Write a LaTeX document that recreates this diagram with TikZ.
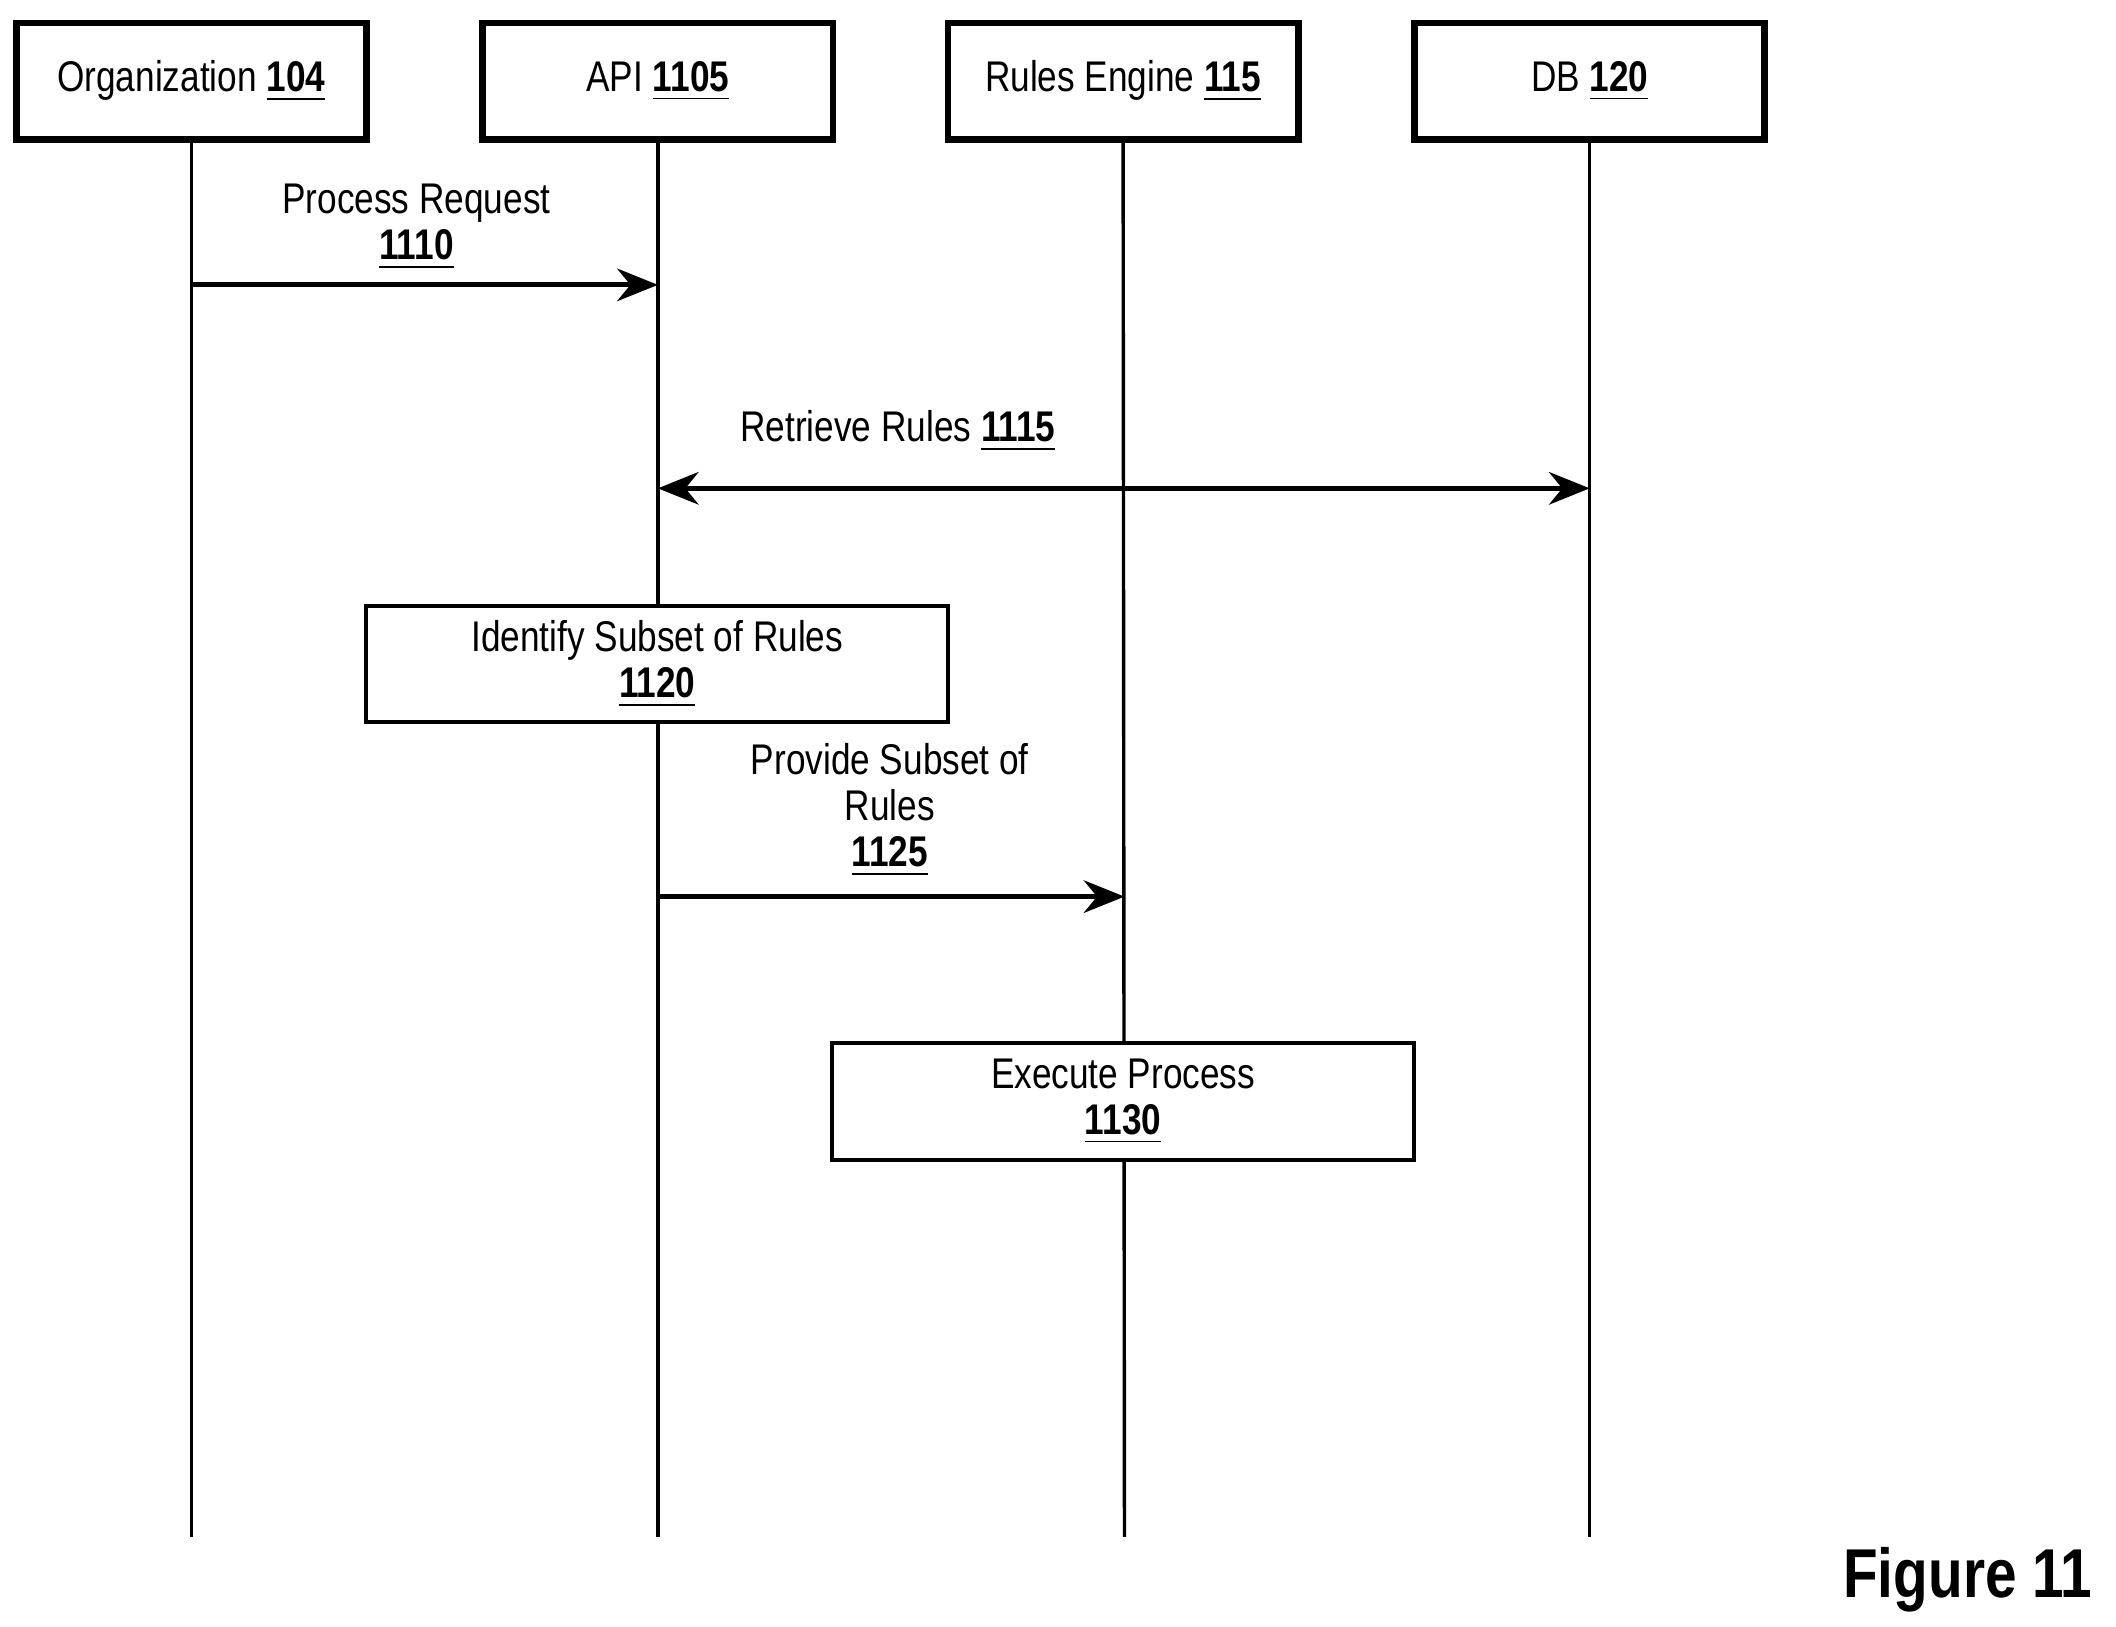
\documentclass[tikz,border=0pt]{standalone}
\usepackage{fontspec}
\setmainfont{Liberation Sans}[FakeStretch=0.82]
\usetikzlibrary{arrows.meta, positioning}

\begin{document}
\begin{tikzpicture}[
		x=0.01cm, y=-0.01cm,
		line width=0.35mm,
		every node/.style={font=\fontsize{9}{9.7}\selectfont},
		actor/.style={draw, line width=0.5mm, minimum width=2.58cm, minimum height=0.86cm, inner sep=0pt},
		step box/.style={draw, line width=0.3mm, minimum width=4.29cm, minimum height=0.86cm, inner sep=0pt, align=center},
		life/.style={line width=0.25mm},
		msg/.style={-{Stealth[length=3mm, width=2.4mm]}},
		msg label/.style={align=center}
		]

	\useasboundingbox (0, 0) rectangle (1560, 1199);

	% Actors
	\node[actor] (org) at (141, 60) {Organization \underline{\textbf{104}}};
	\node[actor] (api) at (485, 60) {API \underline{\textbf{1105}}};
	\node[actor] (rules) at (828, 60) {Rules Engine \underline{\textbf{115}}};
	\node[actor] (db) at (1172, 60) {DB \underline{\textbf{120}}};

	% Lifelines
	\foreach \a/\x in {org/141, api/485, rules/829, db/1172}{
		\coordinate (\a end) at (\x, 1133);
		\draw[life] (\a.south) -- (\a end);
	}

	% Process Request
	\coordinate (m1a) at (141, 210);
	\coordinate (m1b) at (485, 210);
	\draw[msg] (m1a) -- (m1b);
	\node[msg label] (m1) at (307, 167) {Process Request\\\underline{\textbf{1110}}};

	% Retrieve Rules
	\coordinate (m2a) at (485, 360);
	\coordinate (m2b) at (1172, 360);
	\draw[{Stealth[length=3mm, width=2.4mm]}-{Stealth[length=3mm, width=2.4mm]}] (m2a) -- (m2b);
	\node[msg label] (m2) at (662, 318) {Retrieve Rules \underline{\textbf{1115}}};

	% Identify Subset of Rules
	\node[step box, fill=white] (s1) at (484.5, 489.5) {Identify Subset of Rules\\\underline{\textbf{1120}}};

	% Provide Subset of Rules
	\coordinate (m3a) at (485, 661);
	\coordinate (m3b) at (829, 661);
	\draw[msg] (m3a) -- (m3b);
	\node[msg label] (m3) at (656, 597) {Provide Subset of\\Rules\\\underline{\textbf{1125}}};

	% Execute Process
	\node[step box, fill=white] (s2) at (828, 812) {Execute Process\\\underline{\textbf{1130}}};

	\node[anchor=east] (fig) at (1556, 1165) {\fontsize{14.5}{16}\selectfont\textbf{Figure 11}};

\end{tikzpicture}
\end{document}
